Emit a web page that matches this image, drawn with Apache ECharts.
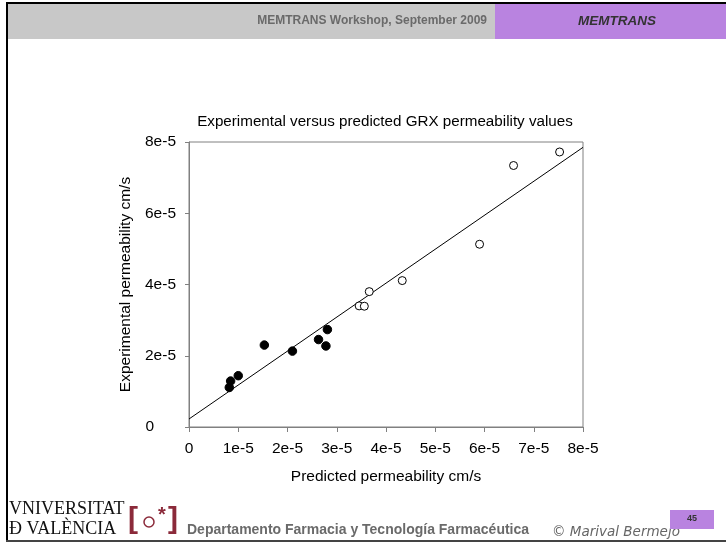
<!DOCTYPE html>
<html>
<head>
<meta charset="utf-8">
<script src="https://cdn.jsdelivr.net/npm/echarts@6/dist/echarts.min.js"></script>
<style>
html,body{margin:0;padding:0;background:#fff;}
#chart{width:726px;height:544px;}
</style>
</head>
<body>
<div id="chart"></div>
<script>
// Data (units of cm/s)
const trainingPredicted = [0.818e-5, 0.845e-5, 1.00e-5, 1.53e-5, 2.10e-5, 2.63e-5, 2.78e-5, 2.81e-5];
const trainingExperimental = [1.11e-5, 1.29e-5, 1.44e-5, 2.30e-5, 2.13e-5, 2.455e-5, 2.275e-5, 2.735e-5];
const testPredicted = [3.455e-5, 3.56e-5, 3.66e-5, 4.33e-5, 5.90e-5, 6.59e-5, 7.525e-5];
const testExperimental = [3.40e-5, 3.39e-5, 3.80e-5, 4.11e-5, 5.13e-5, 7.34e-5, 7.72e-5];
const fitX = [0, 8e-5];
const fitY = [0.225e-5, 7.85e-5];
const xTickMax = 8e-5, xTickStep = 1e-5;
const yTickMax = 8e-5, yTickStep = 2e-5;

const chartTitle = 'Experimental versus predicted GRX permeability values';
const xName = 'Predicted permeability cm/s';
const yName = 'Experimental permeability cm/s';

function zip(a, b) { return a.map((v, i) => [v, b[i]]); }
function fmt(v) {
  const n = Math.round(v / 1e-5);
  return n === 0 ? '0' : n + 'e-5';
}

const chart = echarts.init(document.getElementById('chart'), null, {renderer: 'canvas'});
const F = 'Liberation Sans, Arial, sans-serif';
const purple = '#b983e0';

chart.setOption({
  animation: false,
  backgroundColor: '#ffffff',
  title: {
    text: chartTitle,
    left: 380, top: 109, textAlign: 'center',
    textStyle: {fontFamily: F, fontSize: 15.2, fontWeight: 'normal', color: '#000'}
  },
  grid: {left: 189, right: 143, top: 142, bottom: 117, show: true, borderColor: '#808080', borderWidth: 1, backgroundColor: '#fff'},
  xAxis: {
    type: 'value', min: 0, max: xTickMax, interval: xTickStep,
    name: xName, nameLocation: 'middle', nameGap: 42,
    nameTextStyle: {fontFamily: F, fontSize: 15.5, color: '#000'},
    axisLine: {show: true, onZero: false, lineStyle: {color: '#808080', width: 1}},
    axisTick: {show: true, inside: false, length: 5, lineStyle: {color: '#808080'}},
    axisLabel: {formatter: fmt, fontFamily: F, fontSize: 15.5, color: '#000', margin: 14},
    splitLine: {show: false}
  },
  yAxis: {
    type: 'value', min: 0, max: yTickMax, interval: yTickStep,
    name: yName, nameLocation: 'middle', nameGap: 54, nameRotate: 90,
    nameTextStyle: {fontFamily: F, fontSize: 15.5, color: '#000'},
    axisLine: {show: true, onZero: false, lineStyle: {color: '#808080', width: 1}},
    axisTick: {show: true, inside: false, length: 4, lineStyle: {color: '#808080'}},
    axisLabel: {
      formatter: function (v) { const s = fmt(v); return s === '0' ? '{z|0}' : s; },
      rich: {z: {fontFamily: F, fontSize: 15.5, color: '#000', padding: [0, 22, 0, 0]}},
      fontFamily: F, fontSize: 15.5, color: '#000', margin: 13
    },
    splitLine: {show: false}
  },
  series: [
    {
      type: 'line', data: zip(fitX, fitY), symbol: 'none',
      lineStyle: {color: '#000', width: 1}, z: 2, silent: true
    },
    {
      type: 'scatter', data: zip(trainingPredicted, trainingExperimental),
      symbol: 'circle', symbolSize: 8.5,
      itemStyle: {color: '#000', borderColor: '#000', borderWidth: 1, opacity: 1}, z: 3
    },
    {
      type: 'scatter', data: zip(testPredicted, testExperimental),
      symbol: 'circle', symbolSize: 8,
      itemStyle: {color: '#fff', borderColor: '#000', borderWidth: 1, opacity: 1}, z: 3
    }
  ],
  graphic: [
    // header band
    {type: 'rect', shape: {x: 8, y: 4, width: 487, height: 35}, style: {fill: '#c8c8c8'}, z: -1},
    {type: 'rect', shape: {x: 495, y: 4, width: 231, height: 35}, style: {fill: purple}, z: -1},
    {type: 'rect', shape: {x: 6, y: 2, width: 720, height: 2}, style: {fill: '#000'}},
    {type: 'rect', shape: {x: 6, y: 2, width: 2, height: 540}, style: {fill: '#000'}},
    {type: 'rect', shape: {x: 6, y: 540, width: 720, height: 2}, style: {fill: '#444'}},
    {type: 'text', x: 487, y: 21, style: {text: 'MEMTRANS Workshop, September 2009', fill: '#6a6a6a', font: 'bold 12px ' + F, textAlign: 'right', textVerticalAlign: 'middle'}},
    {type: 'text', x: 617, y: 21, style: {text: 'MEMTRANS', fill: '#333', font: 'italic bold 13.5px ' + F, textAlign: 'center', textVerticalAlign: 'middle'}},
    // footer
    {type: 'text', x: 187, y: 530, style: {text: 'Departamento Farmacia y Tecnología Farmacéutica', fill: '#6a6a6a', font: 'bold 14px ' + F, textAlign: 'left', textVerticalAlign: 'middle'}},
    {type: 'text', x: 552, y: 532, style: {text: '© Marival Bermejo', fill: '#666', font: 'italic 13.5px DejaVu Sans, sans-serif', textAlign: 'left', textVerticalAlign: 'middle'}},
    {type: 'rect', shape: {x: 670, y: 510, width: 44, height: 19}, style: {fill: purple}},
    {type: 'text', x: 692, y: 519, style: {text: '45', fill: '#333', font: 'bold 9px ' + F, textAlign: 'center', textVerticalAlign: 'middle'}},
    // university logo
    {type: 'text', x: 9, y: 509, style: {text: 'VNIVERSITAT', fill: '#111', font: '18px Liberation Serif, DejaVu Serif, serif', textAlign: 'left', textVerticalAlign: 'middle'}},
    {type: 'text', x: 9, y: 529, style: {text: 'Ð VALÈNCIA', fill: '#111', font: '18px Liberation Serif, DejaVu Serif, serif', textAlign: 'left', textVerticalAlign: 'middle'}},
    {type: 'text', x: 133, y: 520, style: {text: '[', fill: '#8b2a3a', font: 'bold 30px ' + F, textAlign: 'center', textVerticalAlign: 'middle'}},
    {type: 'text', x: 173, y: 520, style: {text: ']', fill: '#8b2a3a', font: 'bold 30px ' + F, textAlign: 'center', textVerticalAlign: 'middle'}},
    {type: 'circle', shape: {cx: 149, cy: 522, r: 5}, style: {fill: 'none', stroke: '#8b2a3a', lineWidth: 1.5}},
    {type: 'text', x: 162, y: 515, style: {text: '*', fill: '#8b2a3a', font: 'bold 20px ' + F, textAlign: 'center', textVerticalAlign: 'middle'}}
  ]
});
</script>
</body>
</html>
